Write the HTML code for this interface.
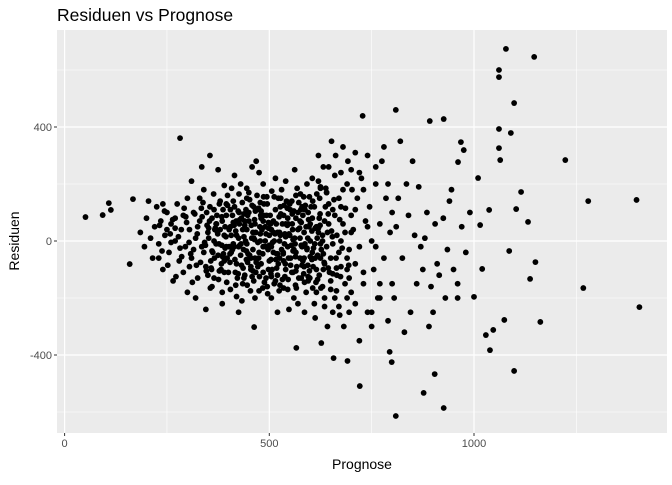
<!DOCTYPE html>
<html><head><meta charset="utf-8"><style>
body{margin:0;background:#fff;}
svg text{font-family:"Liberation Sans",sans-serif;}
</style></head><body>
<svg id="chart" width="672" height="480">
<text x="57" y="21" font-size="17.5" fill="#000">Residuen vs Prognose</text>
<rect x="57" y="30" width="610" height="403" fill="#ebebeb"/>
<g id="grid"></g>
<g id="pts"></g>
<g id="axes"></g>
<text x="362" y="469" font-size="14" text-anchor="middle">Prognose</text>
<text transform="translate(19,241) rotate(-90)" font-size="14" text-anchor="middle">Residuen</text>
</svg>
<script>
const xTicks=[0,500,1000];
const yTicks=[400,0,-400];
const xMinor=[250,750,1250];
const yMinor=[600,200,-200,-600];
const prognose=[
51,93,108,113,167,159,282,728,809,892,926,1078,1061,1061,1147,1098,1061,1090,1061,1064,1223,1115,1103,1132,1279,1397,1404,1267,1162,1150,1137,1086,1074,1047,1029,1039,1098,904,926,877,809,721,794,799,691,657,566,627,463,1020,1000,1015,1037,1010,968,961,975,
185,195,200,210,215,220,225,230,235,240,245,250,255,260,265,270,275,280,285,290,295,300,300,290,270,260,250,240,230,205,
305,310,315,320,325,330,335,340,345,350,355,360,365,370,375,380,385,390,395,400,310,320,330,340,350,360,370,380,390,398,335,355,375,345,385,315,325,365,395,305,
405,410,415,420,425,430,435,440,445,450,455,460,465,470,475,480,485,490,495,500,405,415,425,435,445,455,465,475,485,495,410,420,430,440,450,460,470,480,490,500,412,428,447,462,478,493,433,468,485,458,
505,510,515,520,525,530,535,540,545,550,555,560,565,570,575,580,585,590,595,600,505,515,525,535,545,555,565,575,585,595,510,520,530,540,550,560,570,580,590,600,512,528,548,562,578,592,520,540,586,556,
605,610,615,620,625,630,635,640,645,650,655,660,665,670,675,680,685,690,695,700,605,615,625,635,645,655,665,675,685,695,610,620,630,640,650,660,670,680,690,700,612,632,652,672,692,642,662,682,702,622,
705,710,715,720,725,730,735,740,745,750,755,760,765,770,775,780,785,790,795,800,710,730,750,770,790,720,760,780,740,800,
805,815,825,835,845,855,865,875,885,895,905,915,925,935,945,810,830,850,870,890,910,930,950,820,860,880,900,940,960,980,960,990,970,840,
352,362,372,382,392,402,412,422,432,442,452,462,472,482,492,502,512,522,532,542,552,562,572,582,592,602,612,622,632,642,
357,367,377,387,397,407,417,427,437,447,457,467,477,487,497,507,517,527,537,547,557,567,577,587,597,607,617,627,637,647,
365,385,405,425,445,465,485,505,525,545,565,585,605,625,645,663,675,690,700,710,
232,238,244,252,258,264,272,278,286,292,298,304,312,318,324,332,338,344,352,358,
364,372,378,384,392,398,404,412,418,424,432,438,444,452,458,464,472,478,484,492,
498,504,512,518,524,532,538,544,552,558,564,572,578,584,592,598,604,612,618,624,
632,638,644,652,658,664,672,678,686,694,336,346,356,368,376,388,396,408,416,426,
436,446,456,466,476,486,496,506,516,526,536,546,556,566,576,586,596,606,616,626,
418,428,438,448,458,468,478,488,498,508,518,528,538,548,558,568,578,588,598,608,
384,394,404,414,424,434,444,454,464,474,484,494,504,514,524,534,544,554,564,574,
584,594,604,614,624,634,644,654,664,674,270,282,296,308,322,334,348,360,374,386,
440,460,480,500,520,540,560,580,600,620,445,475,505,535,565,595,625,655,420,390,
342,354,366,378,390,402,414,426,438,450,462,474,486,498,510,522,534,546,558,570,582,594,606,618,630,
347,359,371,383,395,407,419,431,443,455,467,479,491,503,515,527,539,551,563,575,587,599,611,623,635,
620,640,660,680,700,720,740,760,650,670,690,710,730,750,770,615,635,655,675,695];
const residuen=[
84,91,133,109,147,-81,361,439,460,421,428,674,600,575,646,484,393,379,326,284,284,172,112,67,140,144,-232,-165,-284,-74,-133,-35,-277,-312,-330,-383,-456,-467,-586,-533,-614,-509,-389,-425,-421,-411,-375,-358,-302,-98,-196,56,109,221,347,277,319,
30,-20,80,10,-60,50,120,-10,70,-100,20,100,-40,60,-140,0,130,-70,40,90,-20,150,-180,-110,80,-5,40,130,-60,140,
40,-60,100,10,-130,70,-20,180,-90,30,120,-160,0,60,-50,140,-220,20,90,-110,210,-200,150,-40,-120,80,-10,40,-70,160,260,300,250,-240,-180,-30,50,110,-20,-90,
50,-30,120,-80,10,200,-150,70,-10,100,-60,30,-200,160,-40,80,-110,0,130,-70,-170,230,-250,40,150,-100,60,240,-20,-160,90,20,-50,-120,170,-30,110,-80,50,20,-10,75,-75,-140,0,90,-210,280,200,260,
40,-40,110,-120,0,180,-70,60,-170,20,140,-30,80,-220,10,120,-90,50,-140,0,-200,220,-60,90,-20,-110,160,-60,30,100,70,30,-30,-100,130,-200,40,-20,-180,60,-150,150,-240,250,-130,200,-250,210,-250,60,
-40,120,-100,30,190,-160,70,-20,260,-60,110,-200,20,150,-90,60,-150,200,-30,90,220,50,-60,-200,130,-10,-120,240,30,-250,-220,300,0,170,-140,90,-40,330,-100,-180,-270,260,350,-260,280,-300,300,-300,180,-120,
40,-80,150,-20,220,-150,70,-250,120,0,-100,200,-200,60,280,-60,150,-280,30,100,310,180,-300,-150,200,-350,-20,330,50,-150,
-200,150,-60,200,-250,20,190,-100,100,-160,60,-120,80,-30,180,50,-320,280,-20,-300,-80,-200,-100,350,-150,10,-250,140,-150,-40,-200,100,50,90,
10,-40,90,-100,50,-20,140,-130,80,0,-50,120,-90,40,-130,90,0,-80,60,140,-60,10,-130,90,-30,120,-60,80,-100,30,
-70,40,-10,110,-60,20,-110,60,-30,90,10,-110,50,130,-30,-100,60,120,-10,-60,40,-90,110,-10,50,-90,10,-30,120,-110,
-130,70,110,-20,40,-60,70,-20,30,80,-40,-60,80,-10,60,-60,0,-60,30,110,
55,-35,105,-85,25,75,-125,15,-55,115,65,-5,-145,95,25,-75,135,-15,45,-95,
165,35,-105,85,-25,125,-45,65,-155,105,-85,15,-35,145,-125,75,-5,135,-165,25,
65,-115,155,-45,85,-135,25,115,-85,5,-55,135,65,-115,-25,155,-65,45,-135,95,
-45,185,-95,35,145,-175,75,-25,115,-85,85,-105,-165,45,-135,-45,-145,185,-65,165,
-95,-155,55,105,-125,155,-185,175,-65,-155,125,-135,95,-165,165,-145,75,-165,165,-165,
35,-15,95,-45,125,-75,25,-145,45,-5,-95,95,-125,25,-35,185,-15,125,-105,-25,
-15,15,-75,55,-115,135,-65,-175,5,115,-45,155,-65,25,-175,-45,55,-15,-155,45,
155,-85,35,-145,55,-75,95,15,-95,-125,45,-25,85,-45,-85,115,55,-35,25,-55,
55,-105,105,-15,-45,15,105,-85,-55,45,185,-175,-125,-165,-105,-125,185,-115,-195,195,
-5,70,-60,130,-110,40,-20,100,-130,70,10,-60,90,-100,30,150,-40,60,-110,100,-70,10,140,-50,20,
100,-100,60,-80,130,-40,70,-10,110,-90,30,90,-20,60,-140,20,-80,110,-10,70,110,-130,-10,150,-80,
210,170,230,180,250,240,300,260,-170,-230,-200,-220,-110,-250,-200,-180,-230,-250,120,-130];
const NS='http://www.w3.org/2000/svg';
const X0=57,X1=667,Y0=30,Y1=433;
function sx(v){return 64.6+v*0.4094;}
function sy(v){return 241-v*0.285;}
const grid=document.getElementById('grid'),pts=document.getElementById('pts'),axes=document.getElementById('axes');
function line(g,x1,y1,x2,y2,c,w){const l=document.createElementNS(NS,'line');l.setAttribute('x1',x1);l.setAttribute('y1',y1);l.setAttribute('x2',x2);l.setAttribute('y2',y2);l.setAttribute('stroke',c);l.setAttribute('stroke-width',w);g.appendChild(l);return l;}
xMinor.forEach(v=>{const l=line(grid,sx(v),Y0,sx(v),Y1,'#fff',0.6);

});
yMinor.forEach(v=>{const l=line(grid,X0,sy(v),X1,sy(v),'#fff',0.6);

});
xTicks.forEach(v=>{const l=line(grid,sx(v),Y0,sx(v),Y1,'#fff',1.2);


const t=line(axes,sx(v),Y1,sx(v),Y1+3,'#333',1);


const tx=document.createElementNS(NS,'text');tx.setAttribute('x',sx(v));tx.setAttribute('y',Y1+14);tx.setAttribute('font-size','11');tx.setAttribute('fill','#4d4d4d');tx.setAttribute('text-anchor','middle');tx.textContent=v;


axes.appendChild(tx);});
yTicks.forEach(v=>{const l=line(grid,X0,sy(v),X1,sy(v),'#fff',1.2);


const t=line(axes,X0-3,sy(v),X0,sy(v),'#333',1);


const tx=document.createElementNS(NS,'text');tx.setAttribute('x',X0-5);tx.setAttribute('y',sy(v)+4);tx.setAttribute('font-size','11');tx.setAttribute('fill','#4d4d4d');tx.setAttribute('text-anchor','end');tx.textContent=v;


axes.appendChild(tx);});
const n=Math.min(prognose.length,residuen.length);
for(let i=0;i<n;i++){const c=document.createElementNS(NS,'circle');c.setAttribute('cx',sx(prognose[i]));c.setAttribute('cy',sy(residuen[i]));c.setAttribute('r',2.9);c.setAttribute('fill','#000');


pts.appendChild(c);}
</script>
</body></html>
